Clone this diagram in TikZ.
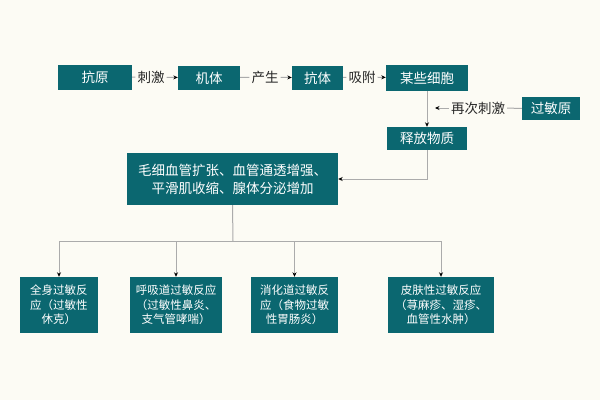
\documentclass[tikz,border=0pt]{standalone}
\usepackage{fontspec}
\setmainfont{Noto Sans CJK SC}
\usetikzlibrary{arrows.meta}
\definecolor{boxteal}{HTML}{0B6770}
\definecolor{paper}{HTML}{FCFBF4}
\definecolor{wiregray}{HTML}{ABABAB}
\tikzset{box/.style={fill=boxteal,text=white,inner sep=0pt,align=center,font=\fontsize{13.5}{18}\selectfont},smallbox/.style={box,minimum height=56pt,font=\fontsize{11.5}{14.5}\selectfont},lbl/.style={inner sep=2pt,text=black!85,font=\fontsize{13.5}{16}\selectfont},wire/.style={draw=wiregray,line width=1pt},flow/.style={wire,-{Stealth[length=4.5pt,width=4pt,color=black]}}}

\begin{document}
\begin{tikzpicture}[x=1pt,y=-1pt]
\path[use as bounding box,fill=paper] (0,0) rectangle (600,400);
\node[box,minimum width=74pt,minimum height=25pt] (kangyuan) at (95,77.5) {抗原};
\node[box,minimum width=62pt,minimum height=24pt] (jiti) at (209,78) {机体};
\node[box,minimum width=51pt,minimum height=24pt] (kangti) at (317.5,78) {抗体};
\node[box,minimum width=82pt,minimum height=26pt] (xibao) at (427,78) {某些细胞};
\node[box,minimum width=80pt,minimum height=23pt] (shifang) at (427,138.5) {释放物质};
\node[box,minimum width=58pt,minimum height=23pt] (guominyuan) at (551,108.5) {过敏原};
\node[lbl] (ciji) at (151,77) {刺激};
\node[lbl] (chansheng) at (265,77) {产生};
\node[lbl] (xifu) at (362,77) {吸附};
\node[lbl] (zaici) at (478,108) {再次刺激};
\coordinate (hit) at (435,108);
\node[box,minimum width=211pt,minimum height=52pt] (bianhua) at (232.5,179) {毛细血管扩张、血管通透增强、\\平滑肌收缩、腺体分泌增加};
\coordinate (bus) at (233,241);
\node[smallbox,minimum width=78pt] (quanshen) at (59,305) {全身过敏反\\应（过敏性\\休克）};
\node[smallbox,minimum width=92pt] (huxi) at (176,305) {呼吸道过敏反应\\（过敏性鼻炎、\\支气管哮喘）};
\node[smallbox,minimum width=87pt] (xiaohua) at (294.5,305) {消化道过敏反\\应（食物过敏\\性胃肠炎）};
\node[smallbox,minimum width=106pt] (pifu) at (441,305) {皮肤性过敏反应\\（荨麻疹、湿疹、\\血管性水肿）};
% top chain
\draw[wire] (kangyuan) -- (ciji);
\draw[flow] (ciji) -- (jiti);
\draw[wire] (jiti) -- (chansheng);
\draw[flow] (chansheng) -- (kangti);
\draw[wire] (kangti) -- (xifu);
\draw[flow] (xifu) -- (xibao);
\draw[flow] (xibao) -- (shifang);
\draw[wire] (guominyuan) -- (zaici);
\draw[flow] (zaici) -- (hit);
\draw[flow] (shifang.south) |- (bianhua.east);
% branches
\draw[wire] (bianhua.south) -- (bus);
\draw[wire] (quanshen |- bus) -- (pifu |- bus);
\foreach \b in {quanshen,huxi,xiaohua,pifu}
  \draw[flow] (\b |- bus) -- (\b.north);
\end{tikzpicture}
\end{document}
